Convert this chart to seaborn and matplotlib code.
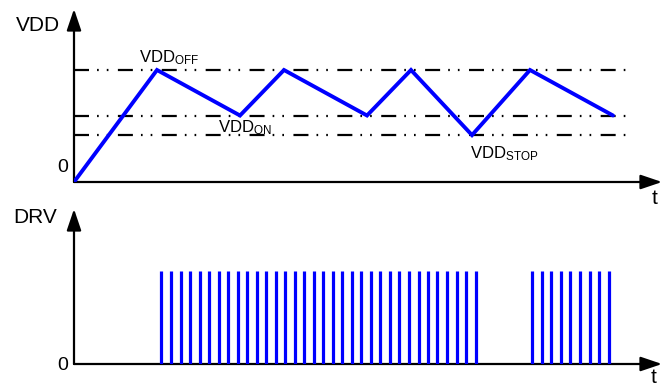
import matplotlib
matplotlib.use("Agg")
import matplotlib.pyplot as plt
import pandas as pd
import seaborn as sns

# ---- data -------------------------------------------------------------
# supply thresholds (V)
VDD_OFF = 16.0
VDD_ON = 9.5
VDD_STOP = 6.7

# VDD waveform corners: time (a.u.) and voltage
vdd_time = [0, 83, 166, 210, 293, 337, 398, 456, 539]
vdd_volt = [0, VDD_OFF, VDD_ON, VDD_OFF, VDD_ON, VDD_OFF, VDD_STOP, VDD_OFF, VDD_ON]

# threshold guide lines span
guide_end = 556

# DRV switching pulses (time of each pulse) and pulse high level
drv_burst1 = [87, 97, 107, 116, 126, 135, 145, 154, 164, 173, 183, 192,
              202, 211, 221, 230, 240, 249, 259, 268, 278, 287, 297, 306,
              316, 325, 335, 345, 354, 363, 373, 383, 392, 402]
drv_burst2 = [458, 468, 477, 487, 496, 506, 516, 525, 535]
drv_high = 1.0

# ---- style ------------------------------------------------------------
sns.set_theme(style="white")
plt.rcParams["font.family"] = ["Liberation Sans", "DejaVu Sans"]
plt.rcParams["text.color"] = "black"
plt.rcParams["mathtext.fontset"] = "custom"
plt.rcParams["mathtext.rm"] = "Liberation Sans"
plt.rcParams["mathtext.default"] = "regular"
plt.rcParams["lines.scale_dashes"] = False

W, H = 660, 387
fig = plt.figure(figsize=(W / 100, H / 100), dpi=100)
fig.patch.set_facecolor("white")

BLUE = "#0000ff"
X_MAX = 588
px_per_volt = 7.0

def frac_box(left, top, right, bottom):
    return [left / W, 1 - bottom / H, (right - left) / W, (bottom - top) / H]

ax1 = fig.add_axes(frac_box(74, 9, 74 + X_MAX, 182))
ax2 = fig.add_axes(frac_box(74, 209, 74 + X_MAX, 364))

ax1.set_xlim(0, X_MAX)
ax1.set_ylim(0, (182 - 9) / px_per_volt)
ax2.set_xlim(0, X_MAX)
ax2.set_ylim(0, drv_high * (364 - 209) / 93)

for ax in (ax1, ax2):
    ax.set_axis_off()
    ax.patch.set_alpha(0)
    # axes drawn as arrows
    xmax = ax.get_xlim()[1]
    ymax = ax.get_ylim()[1]
    arrow = dict(arrowstyle="-|>,head_length=0.65,head_width=0.22",
                 mutation_scale=20, lw=1.6, color="black",
                 shrinkA=0, shrinkB=0)
    ax.annotate("", xy=(xmax, 0), xytext=(0, 0), arrowprops=arrow,
                annotation_clip=False)
    ax.annotate("", xy=(0, ymax), xytext=(0, 0), arrowprops=arrow,
                annotation_clip=False)

# threshold guides (long dash, dot, dot)
guide_dash = (0, (10.8, 5.8, 1.2, 5.8, 1.2, 6.8))
for lvl in (VDD_OFF, VDD_ON, VDD_STOP):
    ax1.plot([0, guide_end], [lvl, lvl], color="black", lw=1.6,
             linestyle=guide_dash, dash_capstyle="butt", zorder=1)

# VDD waveform
vdd_df = pd.DataFrame({"t": vdd_time, "v": vdd_volt})
sns.lineplot(data=vdd_df, x="t", y="v", sort=False, ax=ax1, color=BLUE,
             lw=2.8, zorder=3, solid_joinstyle="miter")
ax1.set_axis_off()

# DRV pulses
ax2.vlines(drv_burst1 + drv_burst2, 0, drv_high, color=BLUE, lw=2.3,
           zorder=3)

# ---- text -------------------------------------------------------------
ax1.text(16 - 74, (182 - 31) / px_per_volt, "VDD", fontsize=15,
         ha="left", va="baseline")
ax1.text(-6, 10 / px_per_volt, "0", fontsize=14, ha="right", va="baseline")
ax1.text(581, -22 / px_per_volt, "t", fontsize=15, ha="center", va="baseline")

ax1.text(139 - 74, VDD_OFF + 8 / px_per_volt, r"VDD$_{OFF}$",
         fontsize=12, ha="left", va="baseline")
ax1.text(218 - 74, VDD_ON - 17 / px_per_volt, r"VDD$_{ON}$",
         fontsize=12, ha="left", va="baseline")
ax1.text(470 - 74, VDD_STOP - 23 / px_per_volt, r"VDD$_{STOP}$",
         fontsize=12, ha="left", va="baseline")

ax2.text(13 - 74, drv_high * (364 - 223) / 93, "DRV", fontsize=15,
         ha="left", va="baseline")
ax2.text(-6, drv_high * -6 / 93, "0", fontsize=14, ha="right",
         va="baseline")
ax2.text(580, drv_high * -19 / 93, "t", fontsize=15, ha="center",
         va="baseline")

fig.savefig("out.png", dpi=100, facecolor="white")
